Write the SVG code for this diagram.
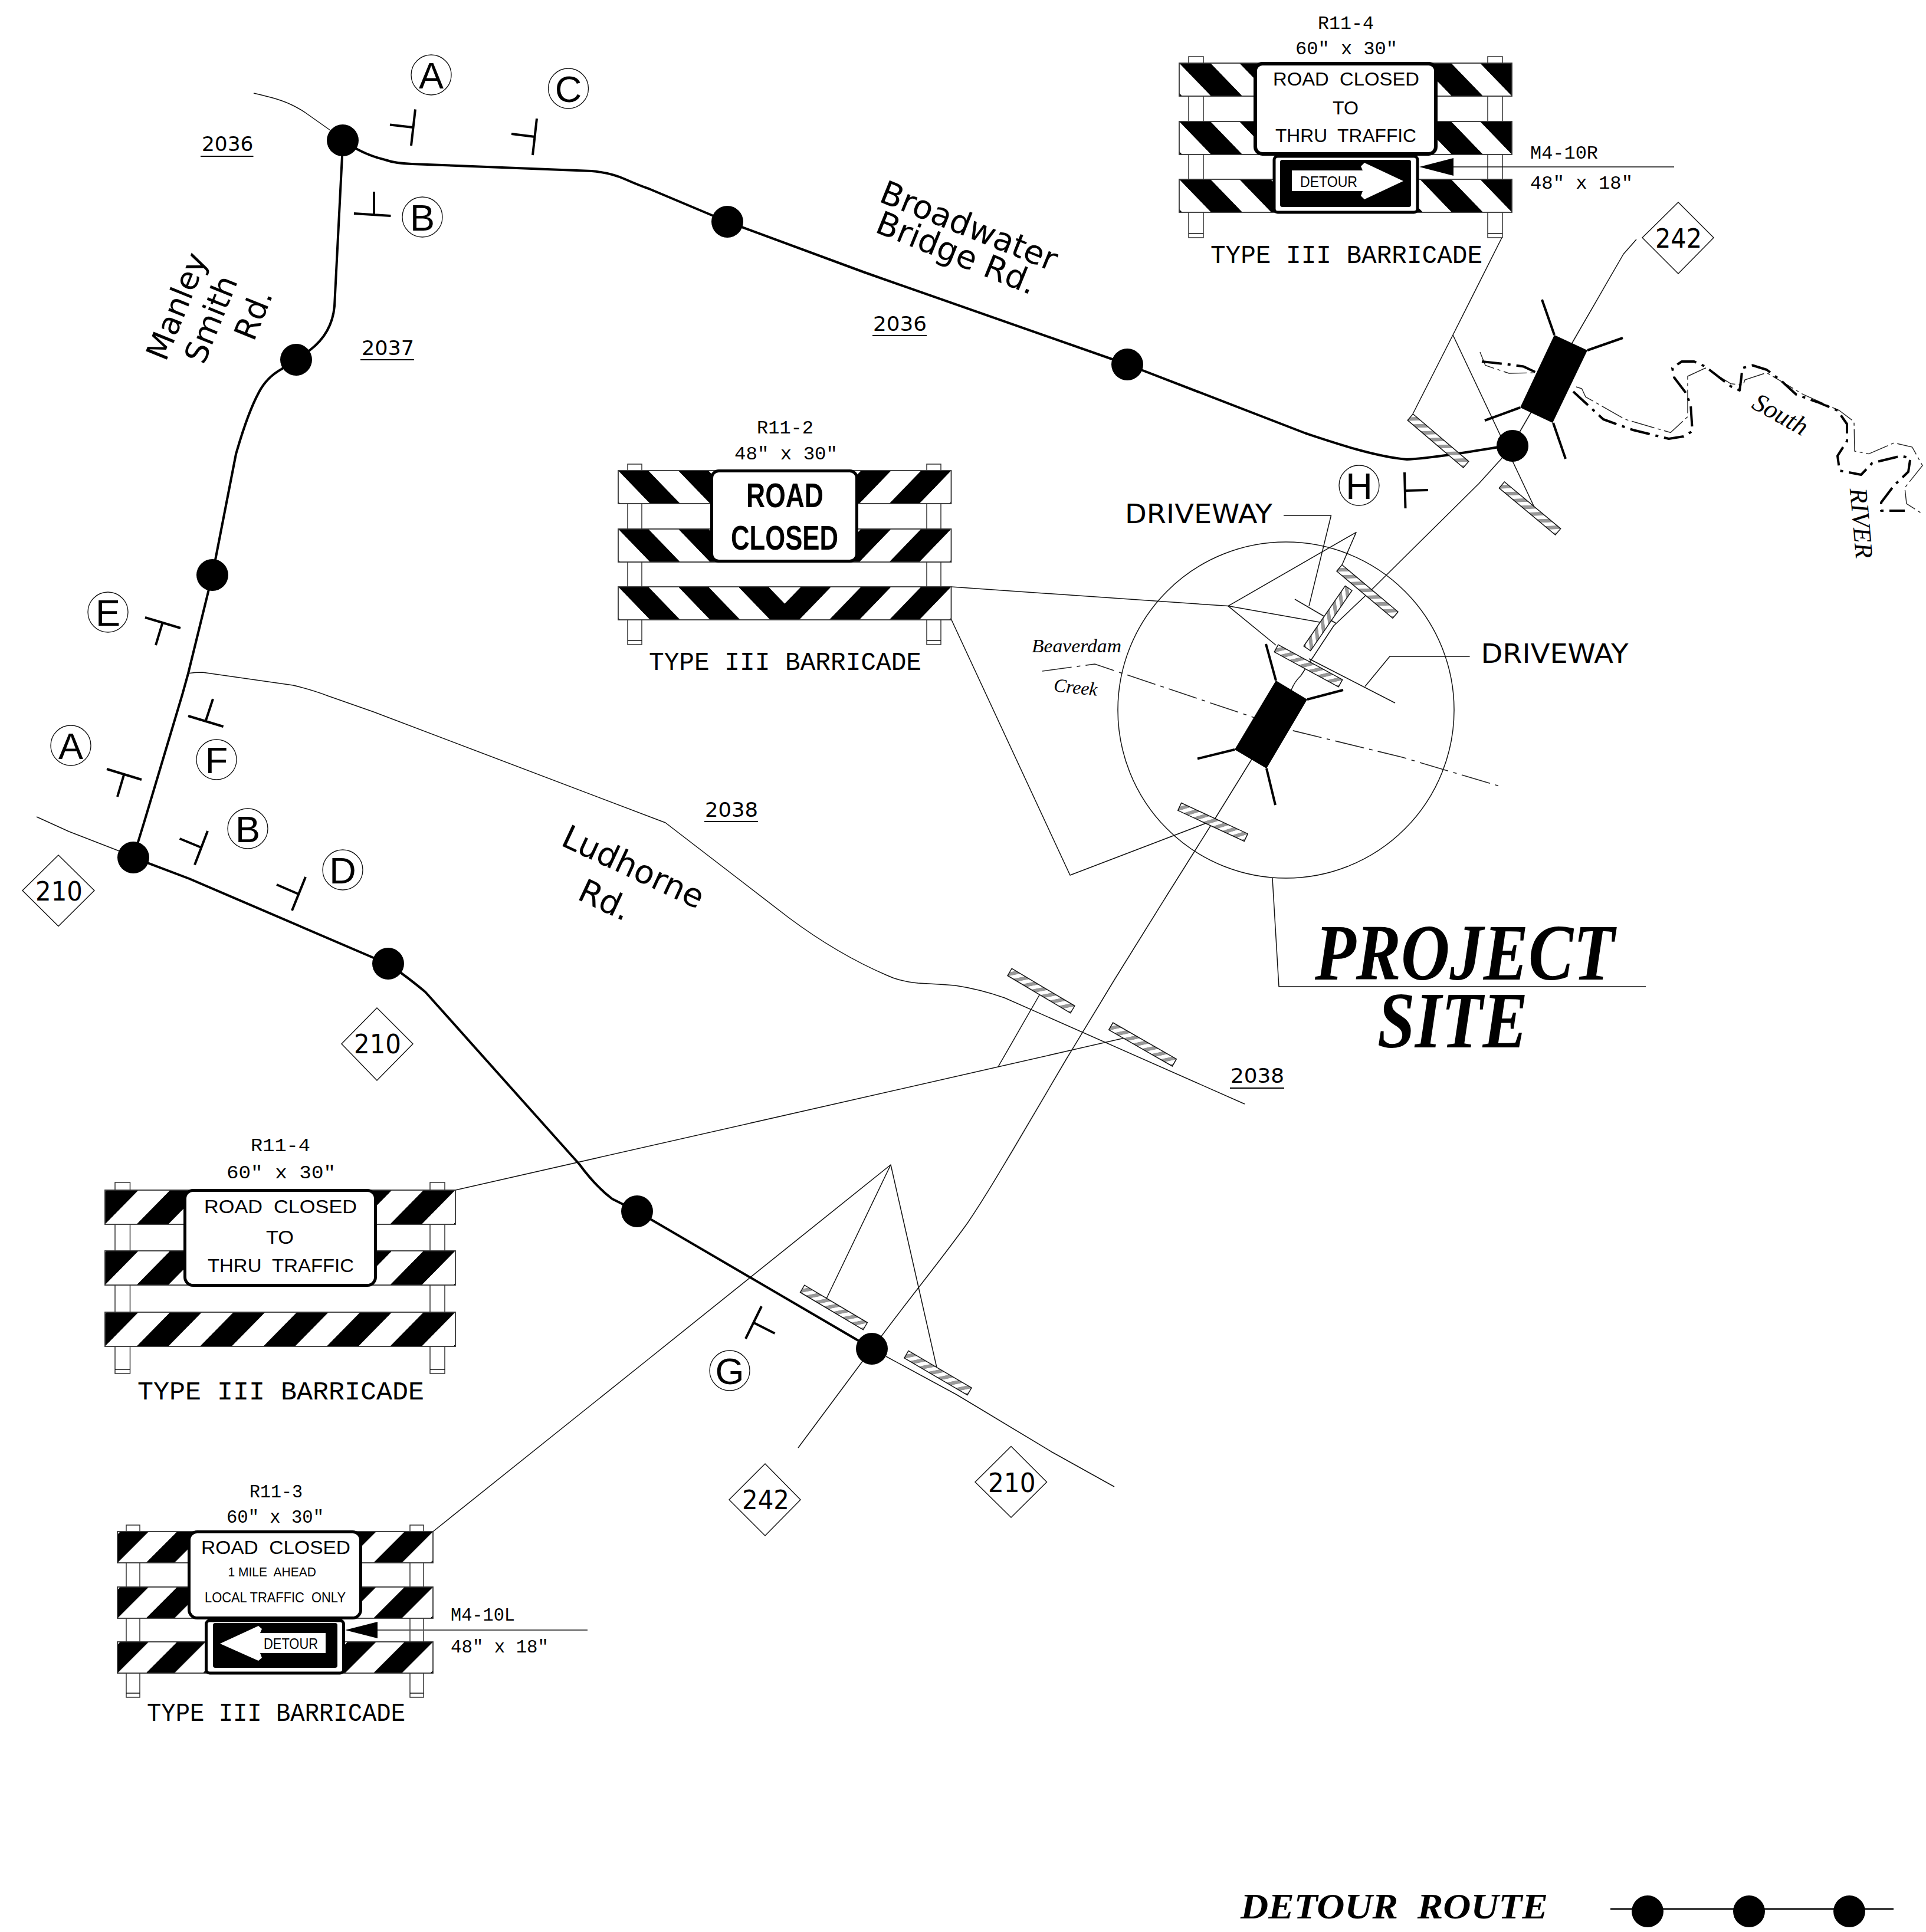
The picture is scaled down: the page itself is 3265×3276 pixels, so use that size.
<svg xmlns="http://www.w3.org/2000/svg" xmlns:xlink="http://www.w3.org/1999/xlink" width="3265" height="3276" viewBox="0 0 3265 3276">
<style>
.t{fill:none;stroke:#111;stroke-width:1.5;stroke-linejoin:round}
.r{fill:none;stroke:#000;stroke-width:4;stroke-linejoin:round}
.k{fill:none;stroke:#000;stroke-width:4}
.n{fill:#000}
.c{fill:#fff;stroke:#111;stroke-width:1.3}
.dm{fill:#fff;stroke:#111;stroke-width:1.4}
.post{fill:#fff;stroke:#333;stroke-width:1.5}
.rail{fill:none;stroke:#333;stroke-width:1.8}
.sign{fill:#fff;stroke:#000;stroke-width:6}
.mono{font-family:"Liberation Mono",monospace;font-size:31px;fill:#000;white-space:pre}
.big{font-size:44px}
.sg{font-family:"Liberation Sans",Arial,sans-serif;font-size:32px;fill:#000;white-space:pre;text-anchor:start}
.dj{font-family:"DejaVu Sans",sans-serif;fill:#000;white-space:pre}
.num{font-size:34px}
.hwy{font-size:44px}
.road{font-size:55px;text-anchor:middle}
.let{font-family:"Liberation Sans",Arial,sans-serif;font-size:63px;fill:#000;text-anchor:middle}
.it{font-family:"Liberation Serif",serif;font-style:italic;fill:#000}
.ti{font-family:"Liberation Serif",serif;font-style:italic;font-weight:bold;fill:#000;white-space:pre}
.riv{fill:none;stroke:#000;stroke-width:4;stroke-dasharray:34 10 5 10;stroke-linejoin:round}
.riv2{fill:none;stroke:#222;stroke-width:1.4;stroke-dasharray:40 6 5 6}
.cr{fill:none;stroke:#222;stroke-width:1.6;stroke-dasharray:50 9 6 9}
</style>
<defs>
<pattern id="p1" width="102" height="56" patternUnits="userSpaceOnUse" patternTransform="skewX(44)"><rect width="53" height="56" fill="#000"/></pattern>
<pattern id="p2l" width="101.8" height="56" patternUnits="userSpaceOnUse" patternTransform="skewX(44)"><rect width="51" height="56" fill="#000"/></pattern>
<pattern id="p2r" width="101.8" height="56" patternUnits="userSpaceOnUse" patternTransform="translate(564.5,0) skewX(-44)"><rect x="50.8" width="51" height="56" fill="#000"/></pattern>
<pattern id="p3" width="107.4" height="58" patternUnits="userSpaceOnUse" patternTransform="translate(3.1,0) skewX(-44.5)"><rect width="53.7" height="58" fill="#000"/></pattern>
<pattern id="p4" width="96.4" height="53" patternUnits="userSpaceOnUse" patternTransform="translate(5,0) skewX(-45)"><rect width="48.2" height="53" fill="#000"/></pattern>
<pattern id="hatch" width="18" height="14" patternUnits="userSpaceOnUse" patternTransform="translate(0,-7) skewX(-48)"><rect width="18" height="14" fill="#fff"/><rect width="9" height="14" fill="#999"/></pattern>
<g id="strip"><rect x="-62" y="-7" width="124" height="14" fill="url(#hatch)" stroke="#111" stroke-width="1.5"/></g>
<g id="rail1"><rect width="564" height="56" fill="#fff"/><rect width="564" height="56" fill="url(#p1)"/><rect class="rail" width="564" height="56"/></g>
<g id="rail2"><rect width="564.5" height="56" fill="#fff"/><rect width="282" height="56" fill="url(#p2l)"/><rect x="282" width="282.5" height="56" fill="url(#p2r)"/><rect class="rail" width="564.5" height="56"/></g>
<g id="rail3"><rect width="594" height="58" fill="#fff"/><rect width="594" height="58" fill="url(#p3)"/><rect class="rail" width="594" height="58"/></g>
<g id="rail4"><rect width="535" height="53" fill="#fff"/><rect width="535" height="53" fill="url(#p4)"/><rect class="rail" width="535" height="53"/></g>
</defs>
<rect width="3265" height="3276" fill="#fff"/>

<g id="connectors">
<circle class="t" cx="2180" cy="1204" r="285"/>
<path class="t" d="M430,158C465,166 490,172 519,192L560,221"/>
<polyline class="t" points="62,1385 117,1410 202,1443"/>
<path class="t" d="M317,1142Q330,1140 343,1140L497,1162Q530,1170 556,1180L633,1207L1128,1395L1337,1556Q1420,1618 1504,1654Q1525,1664 1556,1667Q1595,1669 1619,1671Q1660,1677 1703,1692L2110,1872"/>
<path class="t" d="M1502,2300L1622,2365L1783,2462L1889,2521"/>
<path class="t" d="M1353,2455L1478,2287L1494,2266C1540,2204 1600,2130 1640,2074C1670,2030 1690,1995 1717,1950L1807,1797L1890,1660L1977,1520L2058,1391L2121,1289L2189,1170Q2195,1155 2205,1146L2261,1061L2318,1007L2507,820L2546,777L2577,731L2595,700L2666,580L2752,431L2774,406"/>
<polyline class="t" points="2546,403 2463,568 2395,702"/>
<polyline class="t" points="2463,568 2601,860"/>
<polyline class="t" points="1612.5,995 2082,1027.6 2299,902.6 2275,958"/>
<polyline class="t" points="2082,1027.6 2237,1055"/>
<polyline class="t" points="2082,1027.6 2163,1094"/>
<polyline class="t" points="1612.5,1050 1814,1484 2044,1396"/>
<polyline class="t" points="2176,874 2256.5,874 2219,1027.6"/>
<line class="t" x1="2195" y1="1016" x2="2265" y2="1057"/>
<polyline class="t" points="2491.6,1113 2356,1113 2314,1164"/>
<line class="t" x1="2219" y1="1117" x2="2365" y2="1192"/>
<polyline class="t" points="2157,1489 2168,1673 2790,1673"/>
<polyline class="t" points="772,2018 1692,1809 1911,1759"/>
<line class="t" x1="1692" y1="1809" x2="1765" y2="1682"/>
<polyline class="t" points="734,2597 1100,2304 1510,1975 1401,2202"/>
<line class="t" x1="1510" y1="1975" x2="1588" y2="2319"/>
<polyline class="cr" points="1767,1138 1856,1126 2121,1215 2188,1238 2377,1284 2540,1332.5"/>
<polyline class="riv2" points="2509,597 2518,619.5 2558,633 2605,632"/>
<polyline class="riv" points="2512,613 2558,618 2583,621.6 2605,632"/>
<polyline class="riv2" points="2672,656 2681.5,659 2688,673 2755,711 2832,733.5 2861,706.5 2861,638 2891,624 2934,650.6 2955,653 2958,644 2995,632 3057,669 3118,696 3143,715 3144,765 3168,769.6 3211,751 3241.5,758 3259,789.5 3229,827 3232,854 3260,872"/>
<polyline class="riv" points="2667,664 2718,711 2768,729 2829,744 2854,740 2869,731 2866,686 2857,665 2838,640 2835,624 2851,613 2872,613 2891,621.6 2934,655 2949,662 2952,640 2953.5,624 2971,619.5 2995,627 3020,646 3045,669 3081.5,682 3115,696 3131,719 3131,748 3115,773 3118.5,798 3155,805 3174,785 3223,773 3238.5,777 3235,800 3211,823 3189,852 3189,866 3229,866"/>
<path class="r" d="M581,238Q615,262 653,271Q670,277 698,278L1003,290Q1035,293 1060,304Q1085,315 1100,320L1233,376L1466,462L1911,618L2214,735C2262,751 2330,774 2385,779Q2430,777 2565,754"/>
<path class="r" d="M581,238L580,265L567,519Q563,565 525,594L502,610L477,626Q452,640 439,665Q420,700 400,770L360,975L319,1142L309,1178L245,1392L226,1454"/>
<path class="r" d="M226,1454L321,1490L633,1624L658,1634Q695,1660 721,1682L982,1974Q1010,2012 1038,2033L1080,2054L1453,2272L1478,2287"/>
<line class="t" x1="2730" y1="3237" x2="3210" y2="3237" style="stroke-width:3"/>
</g>

<g id="ticks">
<path class="k" d="M704,185.5L697,247M700,216L661,211.5"/>
<path class="k" d="M910,201L903,263M907,232L867,227"/>
<path class="k" d="M600,362L662.5,366M634,364L634,325"/>
<path class="k" d="M246,1047L306,1065M275.5,1056L264,1094"/>
<path class="k" d="M181,1304L240,1322M210,1314L199,1351"/>
<path class="k" d="M319,1214L378.6,1232M348.5,1223L361,1185"/>
<path class="k" d="M352,1409L330,1466.5M341,1437L304.6,1422"/>
<path class="k" d="M518,1487L495,1544M506,1516L469,1500"/>
<path class="k" d="M1291,2215L1264,2270M1278,2243L1313.5,2261"/>
<path class="k" d="M2381,801L2382.5,862M2382,832L2421,831"/>
</g>

<g id="node-1"><circle class="n" cx="581" cy="238" r="27"/></g>
<g id="node-2"><circle class="n" cx="502" cy="610" r="27"/></g>
<g id="node-3"><circle class="n" cx="1233" cy="376" r="27"/></g>
<g id="node-4"><circle class="n" cx="1911" cy="618" r="27"/></g>
<g id="node-5"><circle class="n" cx="2564" cy="756" r="27"/></g>
<g id="node-6"><circle class="n" cx="360" cy="975" r="27"/></g>
<g id="node-7"><circle class="n" cx="226" cy="1454" r="27"/></g>
<g id="node-8"><circle class="n" cx="658" cy="1634" r="27"/></g>
<g id="node-9"><circle class="n" cx="1080" cy="2054" r="27"/></g>
<g id="node-10"><circle class="n" cx="1478" cy="2287" r="27"/></g>
<g id="legend-nodes"><circle class="n" cx="2793" cy="3241" r="27"/><circle class="n" cx="2965" cy="3241" r="27"/><circle class="n" cx="3135" cy="3241" r="27"/></g>

<g id="strips">
<use href="#strip" transform="translate(2438,747.5) rotate(40.4)"/>
<use href="#strip" transform="translate(2593.5,862) rotate(39.8)"/>
<use href="#strip" transform="translate(2318,1003) rotate(40)"/>
<use href="#strip" transform="translate(2251,1048.5) rotate(124.5)"/>
<use href="#strip" transform="translate(2218,1129) rotate(28.6)"/>
<use href="#strip" transform="translate(2056,1394) rotate(24.9)"/>
<use href="#strip" transform="translate(1413.5,2217) rotate(30.7)"/>
<use href="#strip" transform="translate(1590,2328) rotate(30.4)"/>
<use href="#strip" transform="translate(1765,1680) rotate(30.7)"/>
<use href="#strip" transform="translate(1937,1771) rotate(29.8)"/>
</g>

<g id="bridge-1">
<polygon class="n" points="2635,568 2691,594 2632,717 2577,691"/>
<path class="k" d="M2635,568L2614,508M2691,594L2751,573M2577,691L2517,713M2633,717L2654,778"/>
</g>
<g id="bridge-2">
<polygon class="n" points="2163,1154 2216,1186 2147,1303 2093,1271"/>
<path class="k" d="M2163,1154L2146,1092M2216,1186L2277,1170M2093,1271L2030,1286.5M2147,1303L2162,1365"/>
</g>

<g id="markers">
<g id="m-a1"><circle class="c" cx="731" cy="127" r="34"/><text class="let" x="731" y="150">A</text></g>
<g id="m-c"><circle class="c" cx="963.5" cy="150" r="34"/><text class="let" x="963.5" y="173">C</text></g>
<g id="m-b1"><circle class="c" cx="716" cy="368" r="34"/><text class="let" x="716" y="391">B</text></g>
<g id="m-e"><circle class="c" cx="183" cy="1038" r="34"/><text class="let" x="183" y="1061">E</text></g>
<g id="m-a2"><circle class="c" cx="120" cy="1264" r="34"/><text class="let" x="120" y="1287">A</text></g>
<g id="m-f"><circle class="c" cx="367" cy="1288" r="34"/><text class="let" x="367" y="1311">F</text></g>
<g id="m-b2"><circle class="c" cx="420" cy="1405" r="34"/><text class="let" x="420" y="1428">B</text></g>
<g id="m-d"><circle class="c" cx="581" cy="1475" r="34"/><text class="let" x="581" y="1498">D</text></g>
<g id="m-g"><circle class="c" cx="1237" cy="2324" r="34"/><text class="let" x="1237" y="2347">G</text></g>
<g id="m-h"><circle class="c" cx="2304" cy="823" r="34"/><text class="let" x="2304" y="846">H</text></g>
</g>

<g id="hwy-242-n"><polygon class="dm" points="2784,403 2845,343 2905,403 2845,464"/><text class="dj hwy" x="2806" y="420" textLength="79" lengthAdjust="spacingAndGlyphs">242</text></g>
<g id="hwy-210-w"><polygon class="dm" points="38,1510 99,1450 160,1510 99,1570.5"/><text class="dj hwy" x="60" y="1527" textLength="80" lengthAdjust="spacingAndGlyphs">210</text></g>
<g id="hwy-210-m"><polygon class="dm" points="579,1770 639,1709 700,1770 639,1832"/><text class="dj hwy" x="600" y="1786" textLength="80" lengthAdjust="spacingAndGlyphs">210</text></g>
<g id="hwy-242-s"><polygon class="dm" points="1236,2543 1297,2482 1357,2543 1297,2604"/><text class="dj hwy" x="1258" y="2559" textLength="80" lengthAdjust="spacingAndGlyphs">242</text></g>
<g id="hwy-210-e"><polygon class="dm" points="1653,2513 1714,2452.5 1774.5,2513 1714,2573"/><text class="dj hwy" x="1675" y="2530" textLength="80.6" lengthAdjust="spacingAndGlyphs">210</text></g>

<g id="route-numbers">
<text class="dj num" x="342" y="256" textLength="87.5" lengthAdjust="spacingAndGlyphs">2036</text><line class="k" x1="340" y1="265" x2="429.5" y2="265" style="stroke-width:2"/>
<text class="dj num" x="613" y="601.5" textLength="89" lengthAdjust="spacingAndGlyphs">2037</text><line class="k" x1="611" y1="610" x2="702" y2="610" style="stroke-width:2"/>
<text class="dj num" x="1480" y="561" textLength="91" lengthAdjust="spacingAndGlyphs">2036</text><line class="k" x1="1479" y1="569" x2="1571" y2="569" style="stroke-width:2"/>
<text class="dj num" x="1195" y="1385" textLength="90" lengthAdjust="spacingAndGlyphs">2038</text><line class="k" x1="1194" y1="1393" x2="1285" y2="1393" style="stroke-width:2"/>
<text class="dj num" x="2086" y="1836" textLength="91" lengthAdjust="spacingAndGlyphs">2038</text><line class="k" x1="2085" y1="1845" x2="2177" y2="1845" style="stroke-width:2"/>
</g>

<g id="road-names">
<text class="dj road" style="font-size:53px" transform="translate(299,519) rotate(-68)" y="19">Manley</text>
<text class="dj road" style="font-size:53px" transform="translate(357,541) rotate(-68)" y="19">Smith</text>
<text class="dj road" style="font-size:53px" transform="translate(429,533) rotate(-68)" y="19">Rd.</text>
<text class="dj road" transform="translate(1643,382) rotate(22)" y="20">Broadwater</text>
<text class="dj road" transform="translate(1622,428) rotate(22)" y="20">Bridge Rd.</text>
<text class="dj road" transform="translate(1074,1469) rotate(25)" y="20">Ludhorne</text>
<text class="dj road" transform="translate(1026,1525) rotate(25)" y="20">Rd.</text>
<text class="dj" style="font-size:44px" x="1907" y="887" textLength="250" lengthAdjust="spacingAndGlyphs">DRIVEWAY</text>
<text class="dj" style="font-size:44px" x="2510.5" y="1124" textLength="250" lengthAdjust="spacingAndGlyphs">DRIVEWAY</text>
<text class="it" style="font-size:32px" x="1749" y="1106" textLength="152" lengthAdjust="spacingAndGlyphs">Beaverdam</text>
<text class="it" style="font-size:32px" transform="rotate(6 1823 1170)" x="1786" y="1176" textLength="74" lengthAdjust="spacingAndGlyphs">Creek</text>
<text class="it" style="font-size:44px;text-anchor:middle" transform="translate(3018,703) rotate(29)" y="14">South</text>
<text class="it" style="font-size:43px;text-anchor:middle" transform="translate(3155,887) rotate(85)" y="14">RIVER</text>
</g>

<g id="title">
<text class="ti" style="font-size:135px" x="2229" y="1661" textLength="508" lengthAdjust="spacingAndGlyphs">PROJECT</text>
<text class="ti" style="font-size:135px" x="2335" y="1776" textLength="255" lengthAdjust="spacingAndGlyphs">SITE</text>
<text class="ti" style="font-size:62px" x="2103" y="3253" textLength="521" lengthAdjust="spacingAndGlyphs">DETOUR  ROUTE</text>
</g>

<g id="barricade-1">
<rect class="post" x="2015" y="96" width="25" height="307"/><rect class="post" x="2522" y="96" width="25" height="307"/>
<path class="t" d="M2015,396H2040M2522,396H2547"/>
<use href="#rail1" x="1999" y="107"/><use href="#rail1" x="1999" y="206"/><use href="#rail1" x="1999" y="304"/>
<rect class="sign" x="2128" y="108" width="306" height="153" rx="12"/>
<text class="sg" x="2158" y="145" textLength="248" lengthAdjust="spacingAndGlyphs">ROAD  CLOSED</text>
<text class="sg" x="2259" y="194" textLength="44" lengthAdjust="spacingAndGlyphs">TO</text>
<text class="sg" x="2162" y="241" textLength="239" lengthAdjust="spacingAndGlyphs">THRU  TRAFFIC</text>
<rect class="sign" x="2160" y="265" width="243" height="95" rx="6" style="stroke-width:5"/>
<rect class="n" x="2170" y="271" width="222" height="80" rx="4"/>
<polygon points="2190,289 2310,289 2307,282 2313,276 2379,307 2313,338 2307,332 2310,324 2190,324" fill="#fff"/>
<text class="sg" style="font-size:26px" x="2204" y="317" textLength="97" lengthAdjust="spacingAndGlyphs">DETOUR</text>
<polygon class="n" points="2406,283 2464,268 2464,298"/>
<line class="t" x1="2464" y1="283" x2="2838" y2="283"/>
<text class="mono" x="2234" y="49" textLength="95" lengthAdjust="spacingAndGlyphs">R11-4</text>
<text class="mono" x="2196" y="92" textLength="173" lengthAdjust="spacingAndGlyphs">60" x 30"</text>
<text class="mono" x="2594" y="269" textLength="115" lengthAdjust="spacingAndGlyphs">M4-10R</text>
<text class="mono" x="2594" y="320" textLength="174" lengthAdjust="spacingAndGlyphs">48" x 18"</text>
<text class="mono big" x="2052" y="446" textLength="461" lengthAdjust="spacingAndGlyphs">TYPE III BARRICADE</text>
</g>

<g id="barricade-2">
<rect class="post" x="1064" y="787" width="24" height="306"/><rect class="post" x="1571" y="787" width="24" height="306"/>
<path class="t" d="M1064,1086H1088M1571,1086H1595"/>
<use href="#rail2" x="1048" y="798"/><use href="#rail2" x="1048" y="897"/><use href="#rail2" x="1048" y="995"/>
<rect class="sign" x="1206.5" y="798.5" width="246" height="153" rx="12" style="stroke-width:5"/>
<text class="sg" style="font-size:58px;font-weight:bold" x="1265" y="860" textLength="131" lengthAdjust="spacingAndGlyphs">ROAD</text>
<text class="sg" style="font-size:58px;font-weight:bold" x="1239" y="932" textLength="182" lengthAdjust="spacingAndGlyphs">CLOSED</text>
<text class="mono" x="1283" y="735" textLength="96" lengthAdjust="spacingAndGlyphs">R11-2</text>
<text class="mono" x="1245" y="779" textLength="175" lengthAdjust="spacingAndGlyphs">48" x 30"</text>
<text class="mono big" x="1100" y="1136" textLength="462" lengthAdjust="spacingAndGlyphs">TYPE III BARRICADE</text>
</g>

<g id="barricade-3">
<rect class="post" x="195" y="2005" width="25.5" height="324"/><rect class="post" x="729" y="2005" width="25" height="324"/>
<path class="t" d="M195,2322H220.5M729,2322H754"/>
<use href="#rail3" x="178" y="2018"/><use href="#rail3" x="178" y="2121"/><use href="#rail3" x="178" y="2225"/>
<rect class="sign" x="313.5" y="2018.5" width="323" height="161" rx="14" style="stroke-width:5"/>
<text class="sg" x="346" y="2057" textLength="259" lengthAdjust="spacingAndGlyphs">ROAD  CLOSED</text>
<text class="sg" x="451" y="2109" textLength="47" lengthAdjust="spacingAndGlyphs">TO</text>
<text class="sg" x="352" y="2157" textLength="248" lengthAdjust="spacingAndGlyphs">THRU  TRAFFIC</text>
<text class="mono" x="425" y="1952" textLength="101" lengthAdjust="spacingAndGlyphs">R11-4</text>
<text class="mono" x="384" y="1998" textLength="185" lengthAdjust="spacingAndGlyphs">60" x 30"</text>
<text class="mono big" x="233" y="2373" textLength="486" lengthAdjust="spacingAndGlyphs">TYPE III BARRICADE</text>
</g>

<g id="barricade-4">
<rect class="post" x="214" y="2586" width="23" height="292"/><rect class="post" x="695" y="2586" width="23" height="292"/>
<path class="t" d="M214,2871H237M695,2871H718"/>
<use href="#rail4" x="199" y="2597"/><use href="#rail4" x="199" y="2691"/><use href="#rail4" x="199" y="2784"/>
<rect class="sign" x="320.5" y="2597.5" width="291" height="146" rx="14" style="stroke-width:5"/>
<text class="sg" x="341" y="2635" textLength="253" lengthAdjust="spacingAndGlyphs">ROAD  CLOSED</text>
<text class="sg" style="font-size:22px" x="386.5" y="2673" textLength="149.5" lengthAdjust="spacingAndGlyphs">1 MILE  AHEAD</text>
<text class="sg" style="font-size:23px" x="347" y="2717" textLength="239" lengthAdjust="spacingAndGlyphs">LOCAL TRAFFIC  ONLY</text>
<rect class="sign" x="349.5" y="2748" width="233" height="89" rx="6" style="stroke-width:5"/>
<rect class="n" x="361" y="2752" width="211" height="76" rx="4"/>
<polygon points="552,2769 441,2769 444,2762 438,2757 373,2787 438,2816 444,2811 441,2803 552,2803" fill="#fff"/>
<text class="sg" style="font-size:25px" x="447" y="2796" textLength="92" lengthAdjust="spacingAndGlyphs">DETOUR</text>
<polygon class="n" points="585,2764 640,2750 640,2778"/>
<line class="t" x1="640" y1="2764" x2="996" y2="2764" style="stroke-width:2;stroke:#555"/>
<text class="mono" x="423" y="2539" textLength="90" lengthAdjust="spacingAndGlyphs">R11-3</text>
<text class="mono" x="384" y="2582" textLength="165" lengthAdjust="spacingAndGlyphs">60" x 30"</text>
<text class="mono" x="764" y="2748" textLength="109" lengthAdjust="spacingAndGlyphs">M4-10L</text>
<text class="mono" x="764" y="2802" textLength="166" lengthAdjust="spacingAndGlyphs">48" x 18"</text>
<text class="mono big" x="249" y="2918" textLength="438" lengthAdjust="spacingAndGlyphs">TYPE III BARRICADE</text>
</g>
</svg>
